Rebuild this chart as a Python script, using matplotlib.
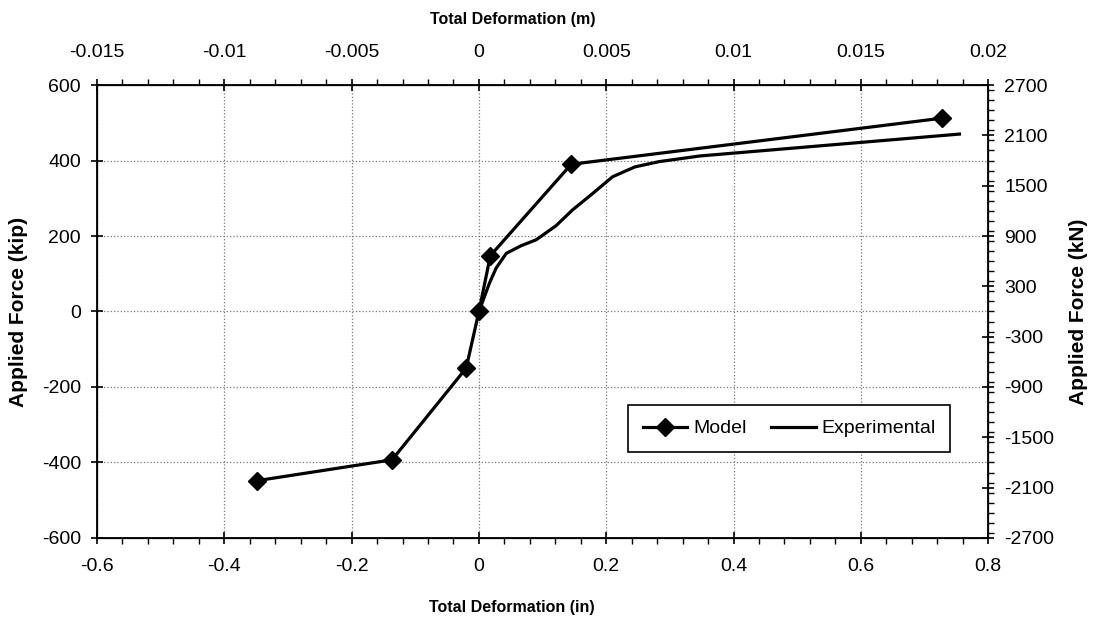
import numpy as np
import matplotlib
matplotlib.use("Agg")
import matplotlib.pyplot as plt
from matplotlib.ticker import MultipleLocator

plt.rcParams['font.family'] = ['Liberation Sans', 'DejaVu Sans']
plt.rcParams['axes.unicode_minus'] = False

# load-deformation data (in, kip)
model_x = [-0.348, -0.1365, -0.020, 0.0, 0.018, 0.145, 0.727]
model_y = [-448, -393, -150, 0, 148, 390, 512]

exp_x = [0.0, 0.0165, 0.027, 0.043, 0.066, 0.090, 0.121, 0.147, 0.179,
         0.210, 0.245, 0.283, 0.347, 0.755]
exp_y = [0, 75, 115, 154, 174, 190, 227, 269, 313, 357, 383, 397, 412, 470]

in_ticks = [-0.6, -0.4, -0.2, 0, 0.2, 0.4, 0.6, 0.8]
in_labels = ['-0.6', '-0.4', '-0.2', '0', '0.2', '0.4', '0.6', '0.8']
m_ticks = [-0.015, -0.01, -0.005, 0, 0.005, 0.01, 0.015, 0.02]
m_labels = ['-0.015', '-0.01', '-0.005', '0', '0.005', '0.01', '0.015', '0.02']
kn_ticks = list(range(-2700, 2701, 600))

tick_fs = 14
xlab_fs = 11.5
ylab_fs = 15

fig = plt.figure(figsize=(10.94, 6.21), dpi=100)
ax = fig.add_axes([0.0887, 0.1337, 0.8145, 0.7294])

ax.plot(model_x, model_y, color='black', lw=2.3, marker='D', ms=9.5,
        label='Model', zorder=3)
ax.plot(exp_x, exp_y, color='black', lw=2.3, label='Experimental', zorder=3)

ax.set_xlim(-0.6, 0.8)
ax.set_ylim(-600, 600)
ax.set_xticks(in_ticks)
ax.set_xticklabels(in_labels)
ax.xaxis.set_minor_locator(MultipleLocator(0.04))
ax.yaxis.set_major_locator(MultipleLocator(200))
ax.grid(True, which='major', color='#777777', linestyle=':', linewidth=0.9)
ax.tick_params(which='major', direction='inout', length=9, width=1.2,
               labelsize=tick_fs, colors='black')
ax.tick_params(axis='x', which='major', pad=10)
ax.tick_params(axis='y', which='major', pad=7)
ax.tick_params(axis='x', which='minor', direction='out', length=4, width=1.0)
ax.tick_params(axis='y', which='minor', left=False)
ax.set_xlabel('Total Deformation (in)', fontsize=xlab_fs, fontweight='bold')
ax.xaxis.set_label_coords(0.466, -0.137)
ax.set_ylabel('Applied Force (kip)', fontsize=ylab_fs, fontweight='bold')
ax.yaxis.set_label_coords(-0.078, 0.5)
for s in ax.spines.values():
    s.set_linewidth(1.3)

# right axis in kN
ax2 = ax.twinx()
ax2.set_ylim(-2700, 2700)
ax2.set_yticks(kn_ticks)
ax2.yaxis.set_minor_locator(MultipleLocator(120))
ax2.tick_params(which='major', direction='inout', length=9, width=1.2,
                labelsize=tick_fs, pad=7)
ax2.tick_params(which='minor', direction='out', length=4, width=1.0)
ax2.set_ylabel('Applied Force (kN)', fontsize=ylab_fs, fontweight='bold')
ax2.yaxis.set_label_coords(1.091, 0.5)

# top axis in m
ax3 = ax.twiny()
ax3.set_xlim(-0.015, 0.02)
ax3.set_xticks(m_ticks)
ax3.set_xticklabels(m_labels)
ax3.xaxis.set_minor_locator(MultipleLocator(0.001))
ax3.tick_params(which='major', direction='inout', length=9, width=1.2,
                labelsize=tick_fs, pad=13)
ax3.tick_params(which='minor', direction='out', length=4, width=1.0)
ax3.set_xlabel('Total Deformation (m)', fontsize=xlab_fs, fontweight='bold')
ax3.xaxis.set_label_coords(0.466, 1.135)

leg = ax.legend(loc='lower left', bbox_to_anchor=(0.596, 0.19), ncol=2,
                fontsize=14, frameon=True, fancybox=False, framealpha=1,
                edgecolor='black', handlelength=2.3, handletextpad=0.3,
                columnspacing=1.25, borderpad=0.75, borderaxespad=0)
leg.get_frame().set_linewidth(1.2)
leg.set_zorder(5)

fig.savefig('out.png', dpi=100)
